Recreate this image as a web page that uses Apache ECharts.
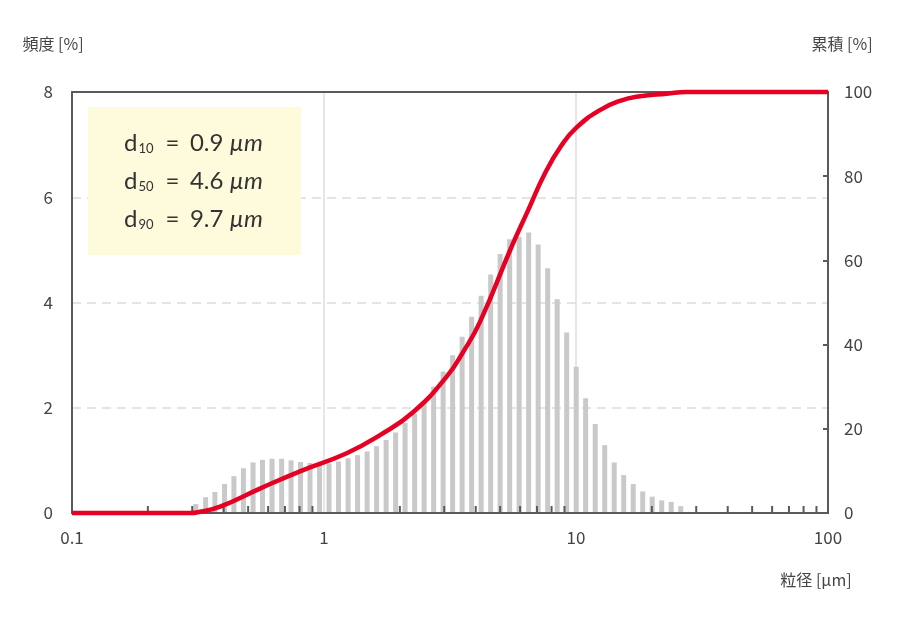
<!DOCTYPE html>
<html>
<head>
<meta charset="utf-8">
<script src="https://cdn.jsdelivr.net/npm/echarts@6/dist/echarts.min.js"></script>
<style>
html,body{margin:0;padding:0;background:#fff;}
#c{width:900px;height:622px;}
</style>
</head>
<body>
<div id="c"></div>
<script>
// particle size bins [µm]
const sizes = [0.310,0.339,0.369,0.403,0.439,0.479,0.523,0.570,0.622,0.679,
  0.740,0.807,0.880,0.960,1.047,1.142,1.246,1.359,1.483,1.617,
  1.764,1.924,2.098,2.289,2.496,2.723,2.970,3.239,3.533,3.853,
  4.203,4.585,5.000,5.454,5.948,6.488,7.077,7.720,8.420,9.183,
  10.02,10.92,11.92,13.00,14.18,15.46,16.87,18.40,20.06,21.88,
  23.87,26.04];
// frequency [%]
const freq = [0.17,0.30,0.40,0.55,0.70,0.85,0.96,1.01,1.03,1.03,
  1.00,0.97,0.95,0.95,0.94,0.98,1.04,1.10,1.17,1.27,
  1.39,1.53,1.71,1.88,2.12,2.40,2.69,3.00,3.35,3.73,
  4.13,4.53,4.92,5.20,5.25,5.33,5.10,4.65,4.06,3.43,
  2.78,2.18,1.69,1.29,0.96,0.72,0.55,0.41,0.31,0.24,
  0.21,0.13];
// cumulative curve [%]
const cumX = [0.1,0.294,0.322,0.387,0.557,0.803,1.230,1.668,2.262,3.068,3.571,4.159,5.556,6.467,7.534,8.777,10.06,12.45,14.95,17.95,22.90,27.50,100];
const cumY = [0,0,0.3,1.5,5.8,9.9,14.2,18.5,24.0,32.4,38.3,45.4,63.3,72.0,80.7,87.4,91.6,95.7,97.9,99.0,99.6,100,100];
// minor log ticks on x axis
const minorTicks = [0.2,0.3,0.4,0.5,0.6,0.7,0.8,0.9,2,3,4,5,6,7,8,9,20,30,40,50,60,70,80,90];
// annotation
const dLabels = [['10','0.9'],['50','4.6'],['90','9.7']];
const leftName = '頻度 [%]';
const rightName = '累積 [%]';
const xName = '粒径 [µm]';

const chart = echarts.init(document.getElementById('c'));
const axisColor = '#5a5a5a';
const labelStyle = {color:'#444', fontSize:17, fontFamily:'Noto Sans CJK JP, Noto Sans, sans-serif'};

const graphics = [
  {type:'rect', shape:{x:88,y:107,width:213,height:148}, style:{fill:'#fdfbdb'}, z:1}
];
dLabels.forEach((d,i)=>{
  const y = 143 + i*38;
  graphics.push({type:'text', x:124, y:y, z:10, style:{
    text:'{d|d}{s|'+d[0]+'}{e|=}', verticalAlign:'middle', align:'left',
    rich:{d:{fontSize:24, fontFamily:'Lato, sans-serif', fill:'#333'},
          s:{fontSize:13, fontFamily:'Lato, sans-serif', fill:'#333', verticalAlign:'bottom', lineHeight:16, padding:[0,0,0,1]},
          e:{fontSize:24, fontFamily:'Lato, sans-serif', fill:'#333', padding:[0,0,0,12]}}
  }});
  graphics.push({type:'text', x:263, y:y, z:10, style:{
    text:'{n|'+d[1]+' }{u|µm}', verticalAlign:'middle', align:'right',
    rich:{n:{fontSize:24, fontFamily:'Lato, sans-serif', fill:'#333'},
          u:{fontSize:24, fontFamily:'Lato, sans-serif', fontStyle:'italic', fill:'#333'}}
  }});
});
graphics.push({type:'text', x:53, y:44, style:{text:leftName, align:'center', verticalAlign:'middle', fill:'#444', fontSize:16, fontFamily:'Noto Sans CJK JP, sans-serif'}});
graphics.push({type:'text', x:842, y:44, style:{text:rightName, align:'center', verticalAlign:'middle', fill:'#444', fontSize:16, fontFamily:'Noto Sans CJK JP, sans-serif'}});
graphics.push({type:'text', x:816, y:580, style:{text:xName, align:'center', verticalAlign:'middle', fill:'#444', fontSize:16, fontFamily:'Noto Sans CJK JP, sans-serif'}});

chart.setOption({
  animation:false,
  backgroundColor:'#fff',
  grid:{left:72,right:72,top:92,bottom:109, show:true, z:3, borderColor:axisColor, borderWidth:2, backgroundColor:'transparent'},
  graphic:graphics,
  xAxis:{type:'log', logBase:10, min:0.1, max:100,
    axisLine:{show:true, lineStyle:{color:axisColor,width:2}},
    axisTick:{show:false},
    axisLabel:Object.assign({margin:16}, labelStyle),
    splitLine:{show:true, lineStyle:{color:'#dedede', width:1.5}}
  },
  yAxis:[
    {type:'value', min:0, max:8, interval:2, position:'left',
      axisLine:{show:true, lineStyle:{color:axisColor,width:2}},
      axisTick:{show:false},
      axisLabel:Object.assign({margin:19}, labelStyle),
      splitLine:{show:true, lineStyle:{color:'#dcdcdc', width:1.5, type:[9,6]}}
    },
    {type:'value', min:0, max:100, interval:20, position:'right',
      axisLine:{show:true, lineStyle:{color:axisColor,width:2}},
      axisTick:{show:true, inside:true, length:5, lineStyle:{color:axisColor,width:2}},
      axisLabel:Object.assign({margin:16}, labelStyle),
      splitLine:{show:false}
    }
  ],
  series:[
    {type:'bar', yAxisIndex:0, barWidth:5, z:2,
      itemStyle:{color:'#c9c9c9'},
      data:sizes.map((s,i)=>[s,freq[i]]), silent:true},
    {type:'scatter', yAxisIndex:0, z:3, symbol:'rect', symbolSize:[2,7], symbolOffset:[0,-3.5],
      itemStyle:{color:axisColor, opacity:1}, silent:true, clip:false,
      data:minorTicks.map(v=>[v,0])},
    {type:'line', yAxisIndex:1, z:5, smooth:0.5, symbol:'none', clip:false,
      lineStyle:{color:'#e60023', width:4.5},
      data:cumX.map((x,i)=>[x,cumY[i]]), silent:true}
  ]
});
</script>
</body>
</html>
